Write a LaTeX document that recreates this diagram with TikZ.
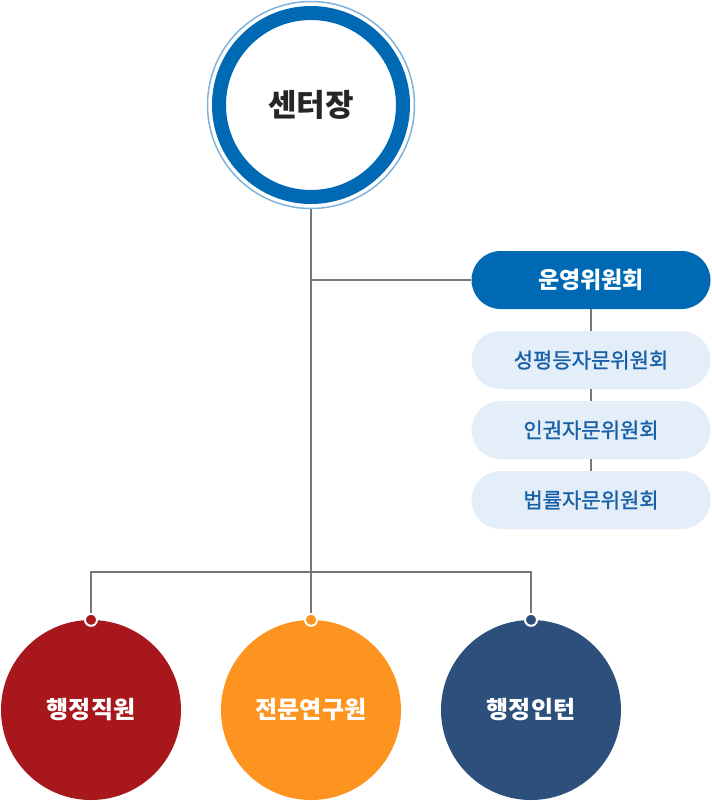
\documentclass[tikz,border=0pt]{standalone}
\usepackage{fontspec}
\newfontfamily\kr{Noto Sans CJK KR}
\newfontfamily\krmed[FakeBold=1.3]{Noto Sans CJK KR}
\definecolor{mainblue}{HTML}{0069B4}
\definecolor{ringblue}{HTML}{7FB2DC}
\definecolor{paleblue}{HTML}{E4EEF8}
\definecolor{textblue}{HTML}{1760A8}
\definecolor{linegray}{HTML}{777777}
\definecolor{staffred}{HTML}{A8171C}
\definecolor{researchorange}{HTML}{FD9420}
\definecolor{internnavy}{HTML}{2C4F7C}
\tikzset{
  link/.style={draw=linegray, line width=2pt},
  committee/.style={rounded corners=29pt, minimum width=239pt, minimum height=58pt, inner sep=0pt},
  member/.style={circle, minimum size=180pt, inner sep=0pt, text=white, font=\kr\bfseries\fontsize{24}{28}\selectfont},
  knot/.style={circle, draw=white, line width=2pt, minimum size=12pt, inner sep=0pt},
}
\begin{document}
\begin{tikzpicture}[x=1pt,y=-1pt]
\useasboundingbox (0,0) rectangle (712,801);
% center head
\node[circle, draw=ringblue, line width=1.5pt, minimum size=207pt, inner sep=0pt] (ring) at (311,105) {};
\node[circle, draw=mainblue, line width=14pt, minimum size=184pt, inner sep=0pt, font=\kr\bfseries\fontsize{31}{36}\selectfont, text=black!85] (head) at (311,105) {센터장};

% committees
\node[committee, fill=mainblue, text=white, font=\kr\bfseries\fontsize{23}{28}\selectfont] (run) at (591,280) {운영위원회};
\node[committee, fill=paleblue, text=textblue, font=\krmed\fontsize{21}{26}\selectfont] (equal) at (591,360) {성평등자문위원회};
\node[committee, fill=paleblue, text=textblue, font=\krmed\fontsize{21}{26}\selectfont] (rights) at (591,430) {인권자문위원회};
\node[committee, fill=paleblue, text=textblue, font=\krmed\fontsize{21}{26}\selectfont] (law) at (591,500) {법률자문위원회};

% staff
\node[member, fill=staffred] (staff) at (91,710) {행정직원};
\node[member, fill=researchorange] (research) at (311,710) {전문연구원};
\node[member, fill=internnavy] (intern) at (531,710) {행정인턴};

\coordinate (split) at (311,572);
\coordinate (branch) at (311,280);

\path[link] (ring.south) -- (split);
\path[link] (branch) -- (run.west);
\path[link] (run.south) -- (equal.north);
\path[link] (equal.south) -- (rights.north);
\path[link] (rights.south) -- (law.north);

\node[knot, fill=staffred] (k1) at (staff.north) {};
\node[knot, fill=researchorange] (k2) at (research.north) {};
\node[knot, fill=internnavy] (k3) at (intern.north) {};

\path[link] (split) -| (k1.north);
\path[link] (split) -- (k2.north);
\path[link] (split) -| (k3.north);
\end{tikzpicture}
\end{document}
